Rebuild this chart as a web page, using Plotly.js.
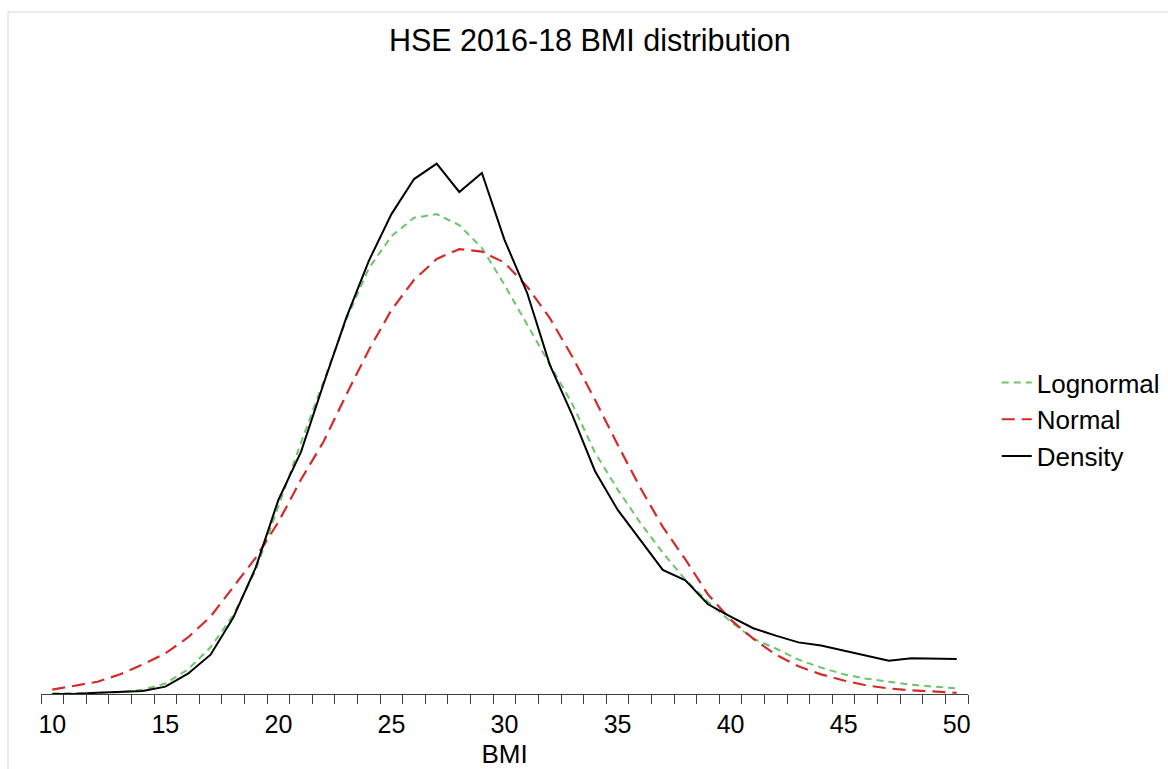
<!DOCTYPE html>
<html>
<head>
<meta charset="utf-8">
<script src="https://cdn.plot.ly/plotly-3.0.1.min.js"></script>
<style>html,body{margin:0;padding:0;background:#fff;}#chart{width:1168px;height:769px;}</style>
</head>
<body>
<div id="chart"></div>
<script>
// BMI categories (one value per integer BMI)
var bmi = [10,11,12,13,14,15,16,17,18,19,20,21,22,23,24,25,26,27,28,29,30,
           31,32,33,34,35,36,37,38,39,40,41,42,43,44,45,46,47,48,49,50];

// Fitted lognormal density (%)
var lognormal = [0.01,0.01,0.02,0.03,0.07,0.17,0.40,0.76,1.28,2.02,3.06,4.09,5.09,6.09,6.93,7.45,7.75,7.81,7.63,7.26,6.66,
                 6.02,5.37,4.72,3.93,3.33,2.79,2.30,1.86,1.50,1.18,0.90,0.74,0.56,0.43,0.32,0.25,0.20,0.15,0.12,0.09];

// Fitted normal density (%)
var normal = [0.07,0.14,0.20,0.32,0.48,0.66,0.92,1.26,1.75,2.22,2.80,3.49,4.11,4.87,5.60,6.25,6.74,7.08,7.24,7.20,7.02,
              6.63,6.12,5.49,4.79,4.06,3.36,2.72,2.19,1.62,1.21,0.90,0.64,0.45,0.32,0.22,0.14,0.09,0.06,0.04,0.02];

// Observed density (%)
var density = [0.00,0.00,0.02,0.03,0.05,0.12,0.33,0.64,1.24,2.06,3.16,3.94,5.05,6.12,7.05,7.81,8.38,8.63,8.17,8.48,7.39,
               6.53,5.36,4.54,3.63,3.00,2.51,2.02,1.85,1.46,1.26,1.07,0.95,0.84,0.79,0.71,0.63,0.54,0.58,0.58,0.57];

var tickValues = [10,15,20,25,30,35,40,45,50];
var tickLabels = ['10','15','20','25','30','35','40','45','50'];

var FONT = 'Liberation Sans, Arial, sans-serif';

var traces = [
  {x: bmi, y: lognormal, name: 'Lognormal', type: 'scatter', mode: 'lines',
   line: {color: '#6ac66a', width: 2, dash: '7px,5px'}},
  {x: bmi, y: normal, name: 'Normal', type: 'scatter', mode: 'lines',
   line: {color: '#d42a2a', width: 2.2, dash: '13px,7px'}},
  {x: bmi, y: density, name: 'Density', type: 'scatter', mode: 'lines',
   line: {color: '#000000', width: 2}}
];

var layout = {
  width: 1168, height: 769,
  paper_bgcolor: '#ffffff', plot_bgcolor: '#ffffff',
  margin: {l: 41, r: 200, t: 100, b: 74.5, autoexpand: false},
  font: {family: FONT, color: '#000000'},
  title: {text: 'HSE 2016-18 BMI distribution', font: {family: FONT, size: 30.5, color: '#000'},
          x: 0.505, xref: 'container', xanchor: 'center', y: 0.947, yref: 'container', yanchor: 'middle'},
  showlegend: true,
  legend: {x: 1.031, xanchor: 'left', y: 0.462, yanchor: 'middle', font: {family: FONT, size: 26, color: '#000'},
           bgcolor: 'rgba(0,0,0,0)', borderwidth: 0, traceorder: 'normal', tracegroupgap: 0},
  xaxis: {range: [9.5, 50.5], tickmode: 'array', tickvals: tickValues, ticktext: tickLabels,
          ticks: '', showgrid: false, zeroline: false, showline: true, linecolor: '#404040', linewidth: 1,
          tickfont: {family: FONT, size: 25, color: '#000'}, ticklabelstandoff: 8,
          minor: {ticks: 'outside', tick0: 9.5, dtick: 1, ticklen: 9, tickwidth: 1, tickcolor: '#404040', showgrid: false},
          title: {text: 'BMI', font: {family: FONT, size: 26, color: '#000'}, standoff: 11},
          automargin: false, fixedrange: true},
  yaxis: {range: [0, 9.667], visible: false, showgrid: false, zeroline: false, automargin: false, fixedrange: true},
  shapes: [
    {type: 'rect', xref: 'paper', yref: 'paper',
     x0: (8 - 41) / 927, x1: (1200 - 41) / 927,
     y0: (694.5 - 800) / 594.5, y1: (694.5 - 12) / 594.5,
     line: {color: '#d9d9d9', width: 1}, fillcolor: 'rgba(0,0,0,0)', layer: 'below'}
  ]
};

Plotly.newPlot('chart', traces, layout, {displayModeBar: false, staticPlot: true});
</script>
</body>
</html>
